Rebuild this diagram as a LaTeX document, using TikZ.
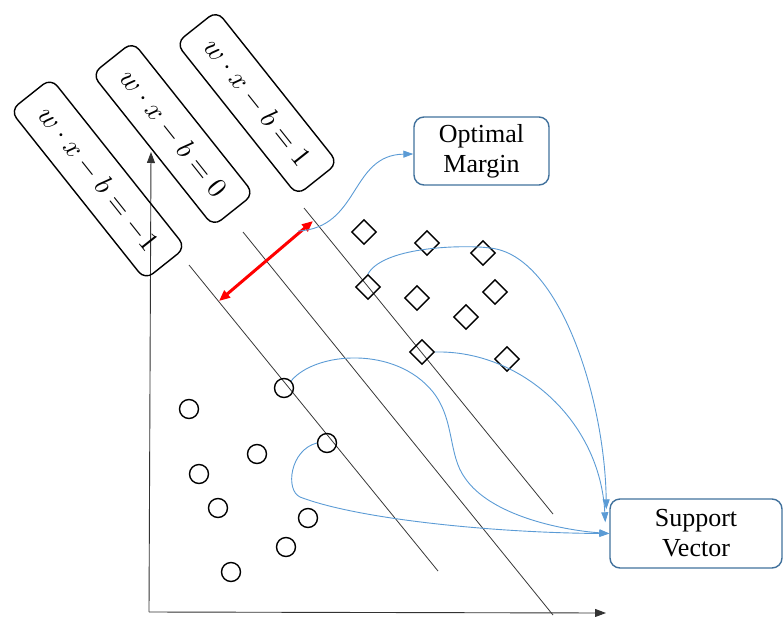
\documentclass[tikz,border=0pt]{standalone}
\usepackage{graphicx}
\usepackage{fontspec}
\newfontfamily\serifbox{Liberation Serif}
\usetikzlibrary{arrows.meta,shapes.geometric,calc}
\definecolor{linkblue}{RGB}{91,155,213}
\definecolor{boxblue}{RGB}{65,113,156}
\definecolor{planegray}{RGB}{55,55,55}
\newcommand{\bigeq}[1]{\scalebox{2.8}{$#1$}}

\begin{document}
\begin{tikzpicture}[x=1pt,y=-1pt,
  eqbox/.style={draw,rounded corners=10pt,line width=1.4pt,rotate=-51.5,
    minimum height=52pt,inner xsep=20pt,inner ysep=0pt},
  tagbox/.style={draw=boxblue,rounded corners=10pt,line width=1.4pt,align=center,
    font=\serifbox\fontsize{26}{30}\selectfont,inner sep=0pt},
  plane/.style={planegray,line width=0.8pt},
  ptcirc/.style={circle,draw,line width=1.4pt,minimum size=19pt,inner sep=0pt},
  ptdiam/.style={diamond,draw,line width=1.4pt,minimum size=25pt,inner sep=0pt},
  link/.style={linkblue,line width=0.9pt,-{Triangle[length=10pt,width=7pt]}},
  axis/.style={black!80,line width=0.9pt,-{Triangle[length=11pt,width=8pt]}},
  gap/.style={red,line width=3pt,{Triangle[length=11pt,width=9pt]}-{Triangle[length=11pt,width=9pt]}}]

\useasboundingbox (0,0) rectangle (784,616);

% coordinate axes
\coordinate (o) at (149,612);
\coordinate (ytip) at (151,152);
\coordinate (xtip) at (606,613);
\draw[axis] (o) -- (ytip);
\draw[axis] (o) -- (xtip);

% separating hyperplane and the two margin planes
\coordinate (lowA) at (189,265);  \coordinate (lowB) at (438,571);
\coordinate (midA) at (243,232);  \coordinate (midB) at (553,615);
\coordinate (upA)  at (304,208);  \coordinate (upB)  at (553,514);
\draw[plane] (lowA) -- (lowB);
\draw[plane] (midA) -- (midB);
\draw[plane] (upA) -- (upB);

% plane equations
\node[eqbox] (eqp) at (257,103) {\bigeq{w\cdot x-b=1}};
\node[eqbox] (eqz) at (173,134) {\bigeq{w\cdot x-b=0}};
\node[eqbox] (eqm) at (98,179)  {\bigeq{w\cdot x-b=-1}};

% margin width
\coordinate (r1) at (219,301);
\coordinate (r2) at (313,221);
\draw[gap] (r1) -- (r2);

% class one: circles
\node[ptcirc] (c1) at (189,409) {};
\node[ptcirc] (c2) at (284,388) {};
\node[ptcirc] (c3) at (327,443) {};
\node[ptcirc] (c4) at (257,454) {};
\node[ptcirc] (c5) at (199,474) {};
\node[ptcirc] (c6) at (218,508) {};
\node[ptcirc] (c7) at (308,518) {};
\node[ptcirc] (c8) at (286,547) {};
\node[ptcirc] (c9) at (231,572) {};

% class two: diamonds
\node[ptdiam] (d1) at (364,232) {};
\node[ptdiam] (d2) at (427,243) {};
\node[ptdiam] (d3) at (483,253) {};
\node[ptdiam] (d4) at (368,287) {};
\node[ptdiam] (d5) at (417,298) {};
\node[ptdiam] (d6) at (495,292) {};
\node[ptdiam] (d7) at (466,317) {};
\node[ptdiam] (d8) at (422,352) {};
\node[ptdiam] (d9) at (507,359) {};

% annotation boxes
\node[tagbox,minimum width=135pt,minimum height=68pt] (om) at (481.5,151) {Optimal\\Margin};
\node[tagbox,minimum width=172pt,minimum height=69pt] (sv) at (696,533.5) {Support\\Vector};

% callouts
\coordinate (omstart) at (298,231);
\coordinate (sv1) at ($(sv.north west)+(-3,11)$);
\coordinate (sv2) at ($(sv.north west)+(-4,24)$);
\draw[link] (omstart) .. controls (360,228) and (350,155) .. ($(om.west)+(0,3)$);
\draw[link] (d4.north) .. controls (385,245) and (470,245) .. (490,248)
  .. controls (560,255) and (605,400) .. (sv1);
\draw[link] (d8.east) .. controls (520,350) and (600,420) .. (sv2);
\draw[link] (c2.45) .. controls (315,352) and (395,345) .. (433,392)
  .. controls (455,420) and (448,455) .. (465,478)
  .. controls (490,515) and (560,530) .. (sv.west);
\draw[link] (c3.west) .. controls (290,450) and (285,490) .. (300,497)
  .. controls (360,520) and (500,533) .. (sv.west);
\end{tikzpicture}
\end{document}
